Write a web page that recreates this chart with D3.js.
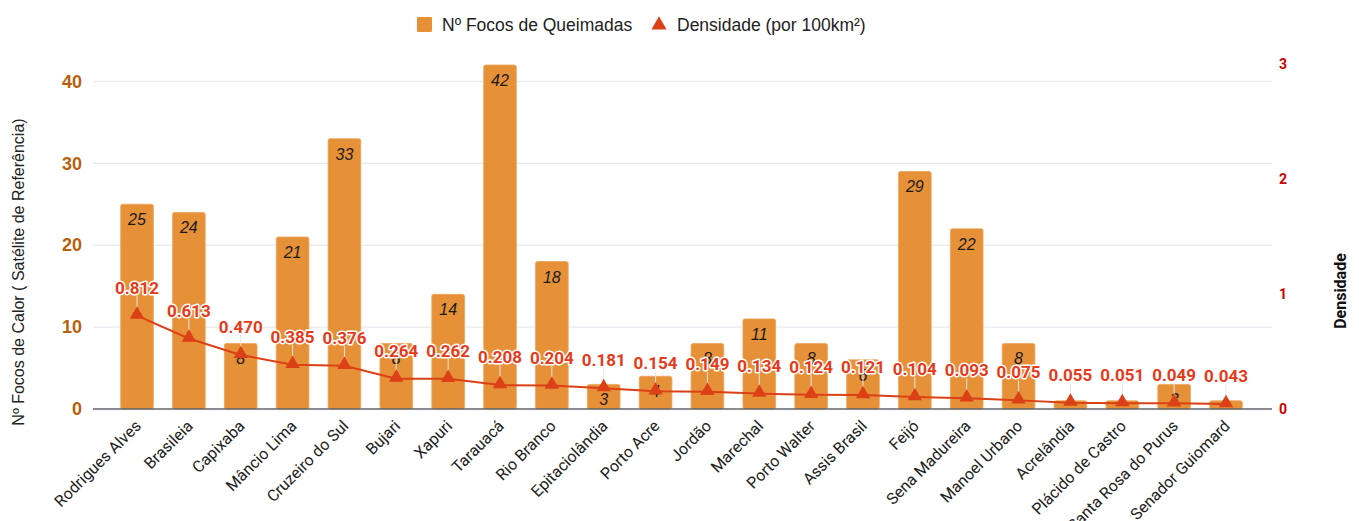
<!DOCTYPE html>
<html>
<head>
<meta charset="utf-8">
<script src="https://cdn.jsdelivr.net/npm/d3@7"></script>
<style>
  body { margin: 0; background: #fff; }
  svg { display: block; }
</style>
</head>
<body>
<div class="chart"></div>
<script>
var municipios = [
  "Rodrigues Alves", "Brasileia", "Capixaba", "Mâncio Lima", "Cruzeiro do Sul",
  "Bujari", "Xapuri", "Tarauacá", "Rio Branco", "Epitaciolândia", "Porto Acre",
  "Jordão", "Marechal", "Porto Walter", "Assis Brasil", "Feijó", "Sena Madureira",
  "Manoel Urbano", "Acrelândia", "Plácido de Castro", "Santa Rosa do Purus", "Senador Guiomard"
];
var focos = [25, 24, 8, 21, 33, 8, 14, 42, 18, 3, 4, 8, 11, 8, 6, 29, 22, 8, 1, 1, 3, 1];
var densidade = [0.812, 0.613, 0.470, 0.385, 0.376, 0.264, 0.262, 0.208, 0.204, 0.181, 0.154,
  0.149, 0.134, 0.124, 0.121, 0.104, 0.093, 0.075, 0.055, 0.051, 0.049, 0.043];
var leftTicks = [0, 10, 20, 30, 40];
var rightTicks = [0, 1, 2, 3];

var w = 1359, h = 521;
var barColor = "#E69138", lineColor = "#DC4016";

var svg = d3.select("div.chart").append("svg")
  .attr("width", w).attr("height", h);

var x = d3.scaleBand().domain(municipios).range([101.5, 1261.5]).padding(0.37);
var yL = d3.scaleLinear().domain([0, 42]).range([409, 65]);
var yR = d3.scaleLinear().domain([0, 3]).range([409, 64]);
var cx = d => x(d) + x.bandwidth() / 2;

//gridlines
svg.append("g").selectAll("line")
  .data(leftTicks.filter(d => d > 0))
  .enter().append("line")
    .attr("x1", 93).attr("x2", 1272)
    .attr("y1", d => yL(d)).attr("y2", d => yL(d))
    .attr("stroke", "#E3E3EC").attr("stroke-width", 1);

//left axis
var axL = svg.append("g").attr("transform", "translate(87,0)")
  .call(d3.axisLeft(yL).tickValues(leftTicks).tickSize(0).tickPadding(5));
axL.select(".domain").remove();
axL.selectAll("text")
  .attr("fill", "#B8600B").attr("font-family", "Liberation Sans, Arial, sans-serif")
  .attr("font-size", 18).attr("font-weight", "bold");

//right axis
var axR = svg.append("g").attr("transform", "translate(1279,0)")
  .call(d3.axisRight(yR).tickValues(rightTicks).tickFormat(d3.format("d")).tickSize(0).tickPadding(0));
axR.select(".domain").remove();
axR.selectAll("text")
  .attr("fill", "#CC0000").attr("font-family", "Roboto, sans-serif")
  .attr("font-size", 14).attr("font-weight", "bold");

//bars
svg.append("g").selectAll("rect")
  .data(municipios)
  .enter().append("rect")
    .attr("x", d => x(d))
    .attr("width", x.bandwidth())
    .attr("y", (d, i) => yL(focos[i]))
    .attr("height", (d, i) => yL(0) - yL(focos[i]))
    .attr("rx", 2)
    .attr("fill", barColor)
    .attr("stroke", "#EFA45A").attr("stroke-width", 0.8);

//baseline
svg.append("line")
  .attr("x1", 93).attr("x2", 1272)
  .attr("y1", yL(0)).attr("y2", yL(0))
  .attr("stroke", "#5f6368").attr("stroke-width", 1.5);

//bar labels (bars too short get none)
svg.append("g").selectAll("text")
  .data(municipios.filter((d, i) => focos[i] >= 3))
  .enter().append("text")
    .attr("x", cx)
    .attr("y", d => yL(focos[municipios.indexOf(d)]) + 21)
    .attr("text-anchor", "middle")
    .attr("font-family", "Liberation Sans, Arial, sans-serif")
    .attr("font-size", 16).attr("font-style", "italic")
    .attr("fill", "#1a1a1a")
    .text(d => focos[municipios.indexOf(d)]);

//x labels
svg.append("g").selectAll("text")
  .data(municipios)
  .enter().append("text")
    .attr("transform", d => "translate(" + (cx(d) + 5) + ",427) rotate(-45)")
    .attr("text-anchor", "end")
    .attr("font-family", "Roboto, sans-serif")
    .attr("font-size", 16)
    .attr("fill", "#222")
    .text(d => d);

//leader lines
svg.append("g").selectAll("line")
  .data(municipios)
  .enter().append("line")
    .attr("x1", cx).attr("x2", cx)
    .attr("y1", (d, i) => yR(densidade[i]) - 20)
    .attr("y2", (d, i) => yR(densidade[i]) - 4)
    .attr("stroke", "#e4e4e4").attr("stroke-width", 1);

//density line
var line = d3.line()
  .x((d, i) => cx(municipios[i]))
  .y(d => yR(d));
svg.append("path")
  .datum(densidade)
  .attr("d", line)
  .attr("fill", "none")
  .attr("stroke", lineColor).attr("stroke-width", 2);

svg.append("g").selectAll("path")
  .data(densidade)
  .enter().append("path")
    .attr("d", d3.symbol().type(d3.symbolTriangle).size(90))
    .attr("transform", (d, i) => "translate(" + cx(municipios[i]) + "," + (yR(d) - 1) + ")")
    .attr("fill", lineColor);

//density labels
svg.append("g").selectAll("text")
  .data(densidade)
  .enter().append("text")
    .attr("x", (d, i) => cx(municipios[i]))
    .attr("y", d => yR(d) - 22)
    .attr("text-anchor", "middle")
    .attr("font-family", "Roboto, sans-serif")
    .attr("font-size", 17).attr("font-weight", "bold")
    .attr("fill", "#E53B1B")
    .attr("stroke", "#fff").attr("stroke-width", 3).attr("paint-order", "stroke")
    .attr("stroke-linejoin", "round")
    .text(d => d3.format(".3f")(d));

//axis titles
svg.append("text")
  .attr("transform", "translate(24,272) rotate(-90)")
  .attr("text-anchor", "middle")
  .attr("font-family", "Liberation Sans, Arial, sans-serif")
  .attr("font-size", 16).attr("fill", "#222")
  .text("Nº Focos de Calor ( Satélite de Referência)");

svg.append("text")
  .attr("transform", "translate(1346,291) rotate(-90)")
  .attr("text-anchor", "middle")
  .attr("font-family", "Roboto, sans-serif")
  .attr("font-size", 16).attr("font-weight", "bold").attr("fill", "#111")
  .text("Densidade");

//legend
var legend = svg.append("g");
legend.append("rect")
  .attr("x", 417).attr("y", 17).attr("width", 15).attr("height", 15)
  .attr("rx", 1).attr("fill", barColor);
legend.append("text")
  .attr("x", 442).attr("y", 31)
  .attr("font-family", "Liberation Sans, Arial, sans-serif")
  .attr("font-size", 17.5).attr("fill", "#222")
  .text("Nº Focos de Queimadas");
legend.append("path")
  .attr("d", d3.symbol().type(d3.symbolTriangle).size(100))
  .attr("transform", "translate(659,25)")
  .attr("fill", lineColor);
legend.append("text")
  .attr("x", 677).attr("y", 31)
  .attr("font-family", "Liberation Sans, Arial, sans-serif")
  .attr("font-size", 17.5).attr("fill", "#222")
  .text("Densidade (por 100km²)");
</script>
</body>
</html>
